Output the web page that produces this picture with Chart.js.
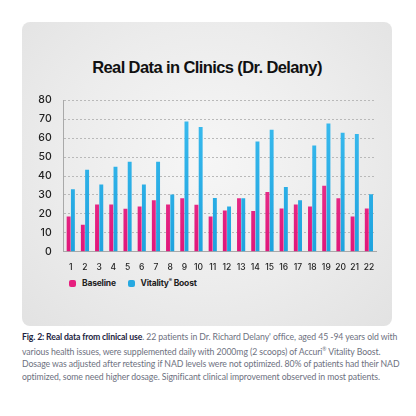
<!DOCTYPE html>
<html>
<head>
<meta charset="utf-8">
<script src="https://cdn.jsdelivr.net/npm/chart.js@4.4.0/dist/chart.umd.min.js"></script>
<style>
  body { margin: 0; background: #fff; width: 416px; height: 416px; position: relative; overflow: hidden; }
  #panel {
    position: absolute; left: 22px; top: 22px; width: 370px; height: 304px;
    border-radius: 8px;
    background: radial-gradient(ellipse at 50% 45%, #f6f6f6 0%, #ececec 55%, #e2e2e2 100%);
  }
  #title {
    position: absolute; left: 0; top: 36px; width: 370px; text-align: center;
    font-family: "Liberation Sans", Arial, sans-serif; font-weight: bold;
    font-size: 16.5px; letter-spacing: -0.6px; color: #111;
  }
  #chartBox { position: absolute; left: 0; top: 60px; width: 370px; height: 194px; }
  #legend {
    position: absolute; left: 47px; top: 255px;
    font-family: Inter, sans-serif; font-weight: bold; font-size: 8.5px; color: #222;
    letter-spacing: -0.2px;
  }
  #legend span.item { display: inline-block; margin-right: 10px; }
  #legend i { display: inline-block; width: 7px; height: 7px; border-radius: 2px; vertical-align: -1px; margin-right: 6px; }
  #caption {
    position: absolute; left: 22px; top: 331px; white-space: nowrap;
    font-family: Lato, sans-serif; font-size: 8.7px; line-height: 12.2px; color: #6d7180;
    letter-spacing: -0.08px;
  }
  #caption b { color: #1d2442; letter-spacing: -0.15px; }
</style>
</head>
<body>
<div id="panel">
  <div id="title">Real Data in Clinics (Dr. Delany)</div>
  <div id="chartBox"><canvas id="clinicChart"></canvas></div>
  <div id="legend">
    <span class="item"><i style="background:#e61f7e"></i>Baseline</span>
    <span class="item"><i style="background:#27a9e1"></i>Vitality<sup style="font-size:5px">®</sup> Boost</span>
  </div>
</div>
<div id="caption"><b>Fig. 2: Real data from clinical use</b>. 22 patients in Dr. Richard Delany' office, aged 45 -94 years old with<br>various health issues, were supplemented daily with 2000mg (2 scoops) of Accuri<sup style="font-size:5px">®</sup> Vitality Boost.<br>Dosage was adjusted after retesting if NAD levels were not optimized. 80% of patients had their NAD<br>optimized, some need higher dosage. Significant clinical improvement observed in most patients.</div>

<script>
const patients = ["1","2","3","4","5","6","7","8","9","10","11","12","13","14","15","16","17","18","19","20","21","22"];
const baseline = [18.7, 14.3, 25, 25, 22.7, 23.9, 27.2, 25, 28.3, 24.8, 18.7, 21.8, 28.3, 21.5, 31.6, 22.9, 25, 23.9, 34.9, 28.3, 18.7, 22.9];
const vitalityBoost = [33, 43.3, 35.6, 44.9, 47.5, 35.6, 47.5, 30.2, 68.8, 65.9, 28.4, 23.9, 28.3, 58.3, 64.5, 34.2, 27.2, 56.1, 67.8, 62.9, 62.2, 30.4];
const yTicks = [0, 10, 20, 30, 40, 50, 60, 70, 80];

function barGradient(top, bottom) {
    return function(context) {
        const area = context.chart.chartArea;
        if (!area) return bottom;
        const g = context.chart.ctx.createLinearGradient(0, area.top, 0, area.bottom);
        g.addColorStop(0, top);
        g.addColorStop(1, bottom);
        return g;
    };
}

const ctx = document.getElementById("clinicChart").getContext("2d");
const clinicChart = new Chart(ctx, {
    type: "bar",
    data: {
        labels: patients,
        datasets: [{
            label: "Baseline",
            data: baseline,
            backgroundColor: barGradient("#ef4a98", "#e0167a"),
            barPercentage: 0.92,
            categoryPercentage: 0.6
        }, {
            label: "Vitality® Boost",
            data: vitalityBoost,
            backgroundColor: barGradient("#3cbdf0", "#1ea3de"),
            barPercentage: 0.92,
            categoryPercentage: 0.6
        }]
    },
    options: {
        responsive: true,
        maintainAspectRatio: false,
        animation: false,
        layout: { padding: { left: 4, right: 16, top: 6, bottom: 0 } },
        plugins: {
            legend: { display: false },
            tooltip: { enabled: false }
        },
        scales: {
            x: {
                grid: { display: false },
                border: { display: true, color: "#a9a9a9", width: 1 },
                ticks: {
                    color: "#222",
                    font: { family: "Inter", size: 8.5, weight: "500" },
                    padding: 3,
                    maxRotation: 0,
                    autoSkip: false
                }
            },
            y: {
                min: 0,
                max: 80,
                afterBuildTicks: function(axis) {
                    axis.ticks = yTicks.map(v => ({ value: v }));
                },
                grid: { color: "#b9b9b9", lineWidth: 1, drawTicks: false },
                border: { display: true, color: "#a9a9a9", width: 1, dash: [2, 2] },
                ticks: {
                    color: "#222",
                    font: { family: "Inter", size: 10.5, weight: "500" },
                    padding: 12
                }
            }
        }
    }
});
</script>
</body>
</html>
